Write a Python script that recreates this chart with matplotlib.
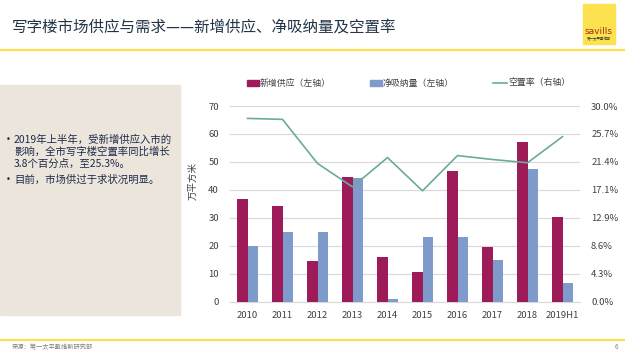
import matplotlib.pyplot as plt
import numpy as np
from matplotlib.patches import Rectangle
from matplotlib.lines import Line2D

plt.rcParams['font.family'] = ['Noto Sans CJK SC', 'DejaVu Sans']

# данные
years = ['2010', '2011', '2012', '2013', '2014', '2015', '2016', '2017', '2018', '2019H1']
supply = [36.6, 34.3, 14.7, 44.5, 16.0, 10.7, 46.7, 19.6, 57.1, 30.2]
absorption = [19.8, 25.0, 24.8, 44.2, 1.0, 23.0, 23.3, 14.9, 47.3, 6.7]
vacancy = [28.1, 27.95, 21.2, 17.6, 22.1, 17.0, 22.4, 21.8, 21.3, 25.3]
right_ticks = [0, 30/7, 60/7, 90/7, 120/7, 150/7, 180/7, 30]

red = '#9e1b5a'
blue = '#7f9bcc'
teal = '#6aab9c'
yellow = '#ffe14d'
txt = '#404040'

W, H = 625, 350
fig = plt.figure(figsize=(6.25, 3.5), dpi=100)

def fx(x):
    return x / W

def fy(y):
    return 1 - y / H

# шапка
fig.text(fx(12), fy(28), '写字楼市场供应与需求——新增供应、净吸纳量及空置率',
         fontsize=11.2, color='#243447', va='center', ha='left')
fig.add_artist(Line2D([0, 1], [fy(50), fy(50)], color=yellow, lw=1.6))
fig.add_artist(Line2D([0, 1], [fy(340), fy(340)], color=yellow, lw=1.6))
fig.patches.append(Rectangle((fx(583), fy(44)), fx(32), 40 / H,
                             transform=fig.transFigure, color='#fde24f'))
fig.text(fx(599), fy(32), 'savills', fontsize=6.5, color='#a52a1a',
         ha='center', va='center', family=['DejaVu Sans'])
fig.text(fx(599), fy(39), '第一太平戴维斯', fontsize=2.5, color='#333333',
         ha='center', va='center')
fig.text(fx(12), fy(347), '来源：第一太平戴维斯研究部', fontsize=4.5,
         color='#808080', style='italic', va='center')
fig.text(fx(615), fy(347), '6', fontsize=4.5, color='#808080', va='center')

# левая панель
fig.patches.append(Rectangle((0, fy(315)), fx(180), (315 - 85) / H,
                             transform=fig.transFigure, color='#ebe5dc'))
navy = '#1e2b4a'
lines = [(140, '2019年上半年，受新增供应入市的', True),
         (152, '影响，全市写字楼空置率同比增长', False),
         (163.5, '3.8个百分点，至25.3%。', False),
         (180, '目前，市场供过于求状况明显。', True)]
for y, s, bullet in lines:
    if bullet:
        fig.text(fx(6), fy(y), '•', fontsize=6, color=navy, va='center',
                 family=['DejaVu Sans'])
    fig.text(fx(14), fy(y), s, fontsize=7.5, color=navy, va='center')

# график
ax = fig.add_axes([fx(230), fy(301.7), fx(350), (301.7 - 106) / H])
x = np.arange(len(years))
bw = 0.286
ax.bar(x - bw / 2, supply, bw, color=red, zorder=3)
ax.bar(x + bw / 2, absorption, bw, color=blue, zorder=3)
ax.set_xlim(-0.5, len(years) - 0.5)
ax.set_ylim(0, 70)
ax.set_yticks(range(0, 71, 10))
ax.grid(axis='y', color='#d9d9d9', lw=0.8, zorder=0)
ax.set_xticks(x)
ax.set_xticklabels(years)
ax.tick_params(length=0, labelsize=6.8, labelcolor=txt)
ax.tick_params(axis='x', pad=7)
ax.tick_params(axis='y', pad=8)
for s in ax.spines.values():
    s.set_visible(False)
ax.spines['bottom'].set_visible(True)
ax.spines['bottom'].set_color('#d9d9d9')

ax2 = ax.twinx()
ax2.plot(x, vacancy, color=teal, lw=1.2, zorder=4)
ax2.set_ylim(0, 30)
ax2.set_yticks(right_ticks)
ax2.set_yticklabels(['{:.1f}%'.format(v) for v in right_ticks])
ax2.tick_params(length=0, labelsize=6.8, labelcolor=txt, pad=8)
for s in ax2.spines.values():
    s.set_visible(False)

fig.text(fx(193), fy(181), '万平方米', rotation=90, fontsize=6.8,
         color=txt, ha='center', va='center')

# легенда
ly = 83
fig.patches.append(Rectangle((fx(247), fy(ly + 3)), fx(12), 6 / H,
                             transform=fig.transFigure, color=red))
fig.text(fx(260), fy(ly), '新增供应（左轴）', fontsize=6.4, color=txt, va='center')
fig.patches.append(Rectangle((fx(370), fy(ly + 3)), fx(12), 6 / H,
                             transform=fig.transFigure, color=blue))
fig.text(fx(383), fy(ly), '净吸纳量（左轴）', fontsize=6.4, color=txt, va='center')
fig.add_artist(Line2D([fx(493), fx(507)], [fy(ly), fy(ly)], color=teal, lw=1.2))
fig.text(fx(508), fy(ly), '空置率（右轴）', fontsize=6.4, color=txt, va='center')

fig.savefig('out.png', dpi=100)
